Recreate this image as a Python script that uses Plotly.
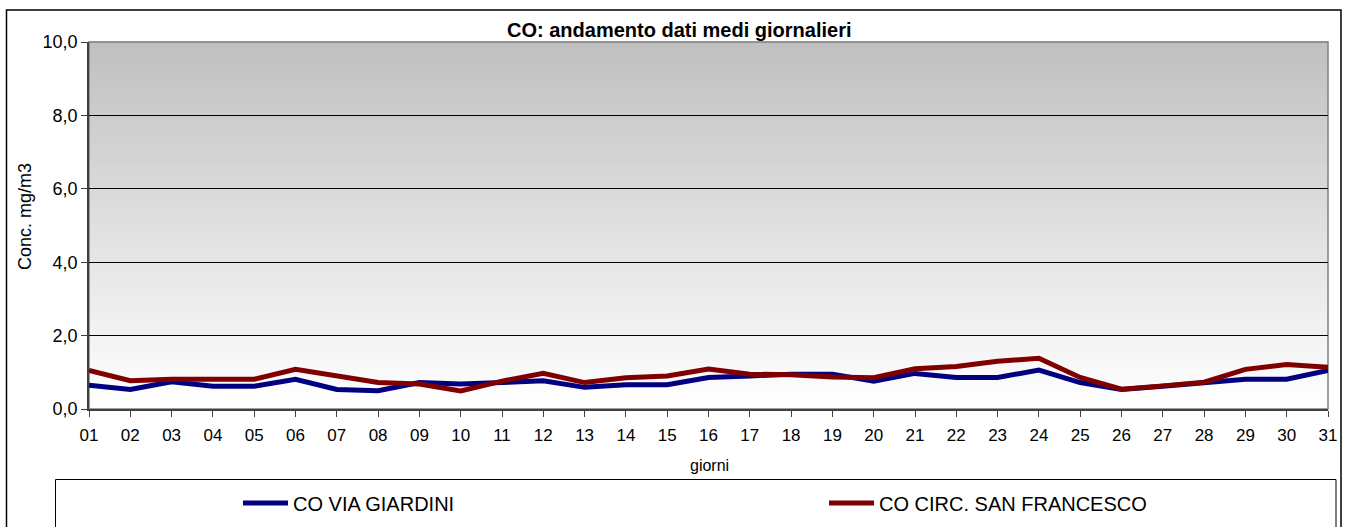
import plotly.graph_objects as go

days = ["01","02","03","04","05","06","07","08","09","10","11","12","13","14","15","16",
        "17","18","19","20","21","22","23","24","25","26","27","28","29","30","31"]
via_giardini = [0.65,0.53,0.74,0.62,0.62,0.81,0.53,0.50,0.72,0.68,0.72,0.77,0.59,0.66,0.66,0.86,
                0.90,0.95,0.95,0.76,0.97,0.86,0.86,1.06,0.72,0.53,0.62,0.72,0.81,0.81,1.05]
san_francesco = [1.05,0.77,0.81,0.81,0.81,1.08,0.91,0.72,0.68,0.49,0.76,0.97,0.72,0.85,0.90,1.09,
                 0.95,0.93,0.87,0.85,1.10,1.16,1.30,1.38,0.86,0.54,0.63,0.73,1.08,1.21,1.14]
y_ticks = [0, 2, 4, 6, 8, 10]

W, H = 1345, 527
L, R, T, B = 89, 17, 42, 118
pw, ph = W - L - R, H - T - B

def px_x(x):
    return (x - L) / pw

def px_y(y):
    return (H - B - y) / ph

FONT = "Liberation Sans, Arial, sans-serif"

fig = go.Figure()
fig.add_trace(go.Scatter(x=list(range(1, 32)), y=via_giardini, mode="lines",
                         name="CO VIA GIARDINI", line=dict(color="#000080", width=5)))
fig.add_trace(go.Scatter(x=list(range(1, 32)), y=san_francesco, mode="lines",
                         name="CO CIRC. SAN FRANCESCO", line=dict(color="#800000", width=5)))

shapes = []
# gradient background
n = 80
for i in range(n):
    t = i / (n - 1)
    v = int(round(255 - (255 - 192) * t))
    shapes.append(dict(type="rect", xref="paper", yref="paper", x0=0, x1=1,
                       y0=i / n, y1=(i + 1) / n + 0.002, line=dict(width=0),
                       fillcolor=f"rgb({v},{v},{v})", layer="below"))
# plot border (top/right)
shapes.append(dict(type="rect", xref="paper", yref="paper", x0=0, x1=1, y0=0, y1=1,
                   line=dict(color="#808080", width=1.5), layer="below"))
# outer chart border
shapes.append(dict(type="rect", xref="paper", yref="paper", x0=px_x(6.5), x1=px_x(1341),
                   y0=px_y(540), y1=px_y(10), line=dict(color="#000000", width=1.5)))
# legend box
shapes.append(dict(type="rect", xref="paper", yref="paper", x0=px_x(55.5), x1=px_x(1336),
                   y0=px_y(540), y1=px_y(479.5), line=dict(color="#000000", width=1)))

fig.update_layout(
    width=W, height=H,
    margin=dict(l=L, r=R, t=T, b=B, autoexpand=False),
    paper_bgcolor="white", plot_bgcolor="white",
    separators=",.",
    font=dict(family=FONT, size=17, color="black"),
    shapes=shapes,
    showlegend=True,
    hovermode=False,
    legend=dict(orientation="h", x=px_x(238), y=px_y(503), xanchor="left", yanchor="middle",
                entrywidth=526, entrywidthmode="pixels", itemwidth=45,
                font=dict(family=FONT, size=20), bgcolor="rgba(0,0,0,0)"),
    annotations=[
        dict(text="<b>CO: andamento dati medi giornalieri</b>", xref="paper", yref="paper",
             x=px_x(679), y=px_y(30), xanchor="center", yanchor="middle", showarrow=False,
             font=dict(family=FONT, size=20)),
        dict(text="Conc. mg/m3", xref="paper", yref="paper", x=px_x(25), y=px_y(217),
             xanchor="center", yanchor="middle", textangle=-90, showarrow=False,
             font=dict(family=FONT, size=18)),
        dict(text="giorni", xref="paper", yref="paper", x=px_x(709), y=px_y(465),
             xanchor="center", yanchor="middle", showarrow=False,
             font=dict(family=FONT, size=16)),
    ],
)
fig.update_xaxes(range=[1, 31], tickmode="array", tickvals=list(range(1, 32)), ticktext=days,
                 ticks="outside", ticklen=6, tickcolor="#404040", showline=True,
                 linecolor="#404040", linewidth=1.5, showgrid=False, zeroline=False,
                 ticklabelstandoff=4, tickfont=dict(family=FONT, size=17))
fig.update_yaxes(range=[0, 10], tickvals=y_ticks, tickformat=".1f", ticks="outside", ticklen=6,
                 tickcolor="#404040", showline=True, linecolor="#404040", linewidth=1.5,
                 showgrid=True, gridcolor="black", gridwidth=1, zeroline=False,
                 tickfont=dict(family=FONT, size=18))

fig.write_html("out.html", config={"displayModeBar": False},
               post_script="document.body.style.margin='0';document.body.style.overflow='hidden';")
